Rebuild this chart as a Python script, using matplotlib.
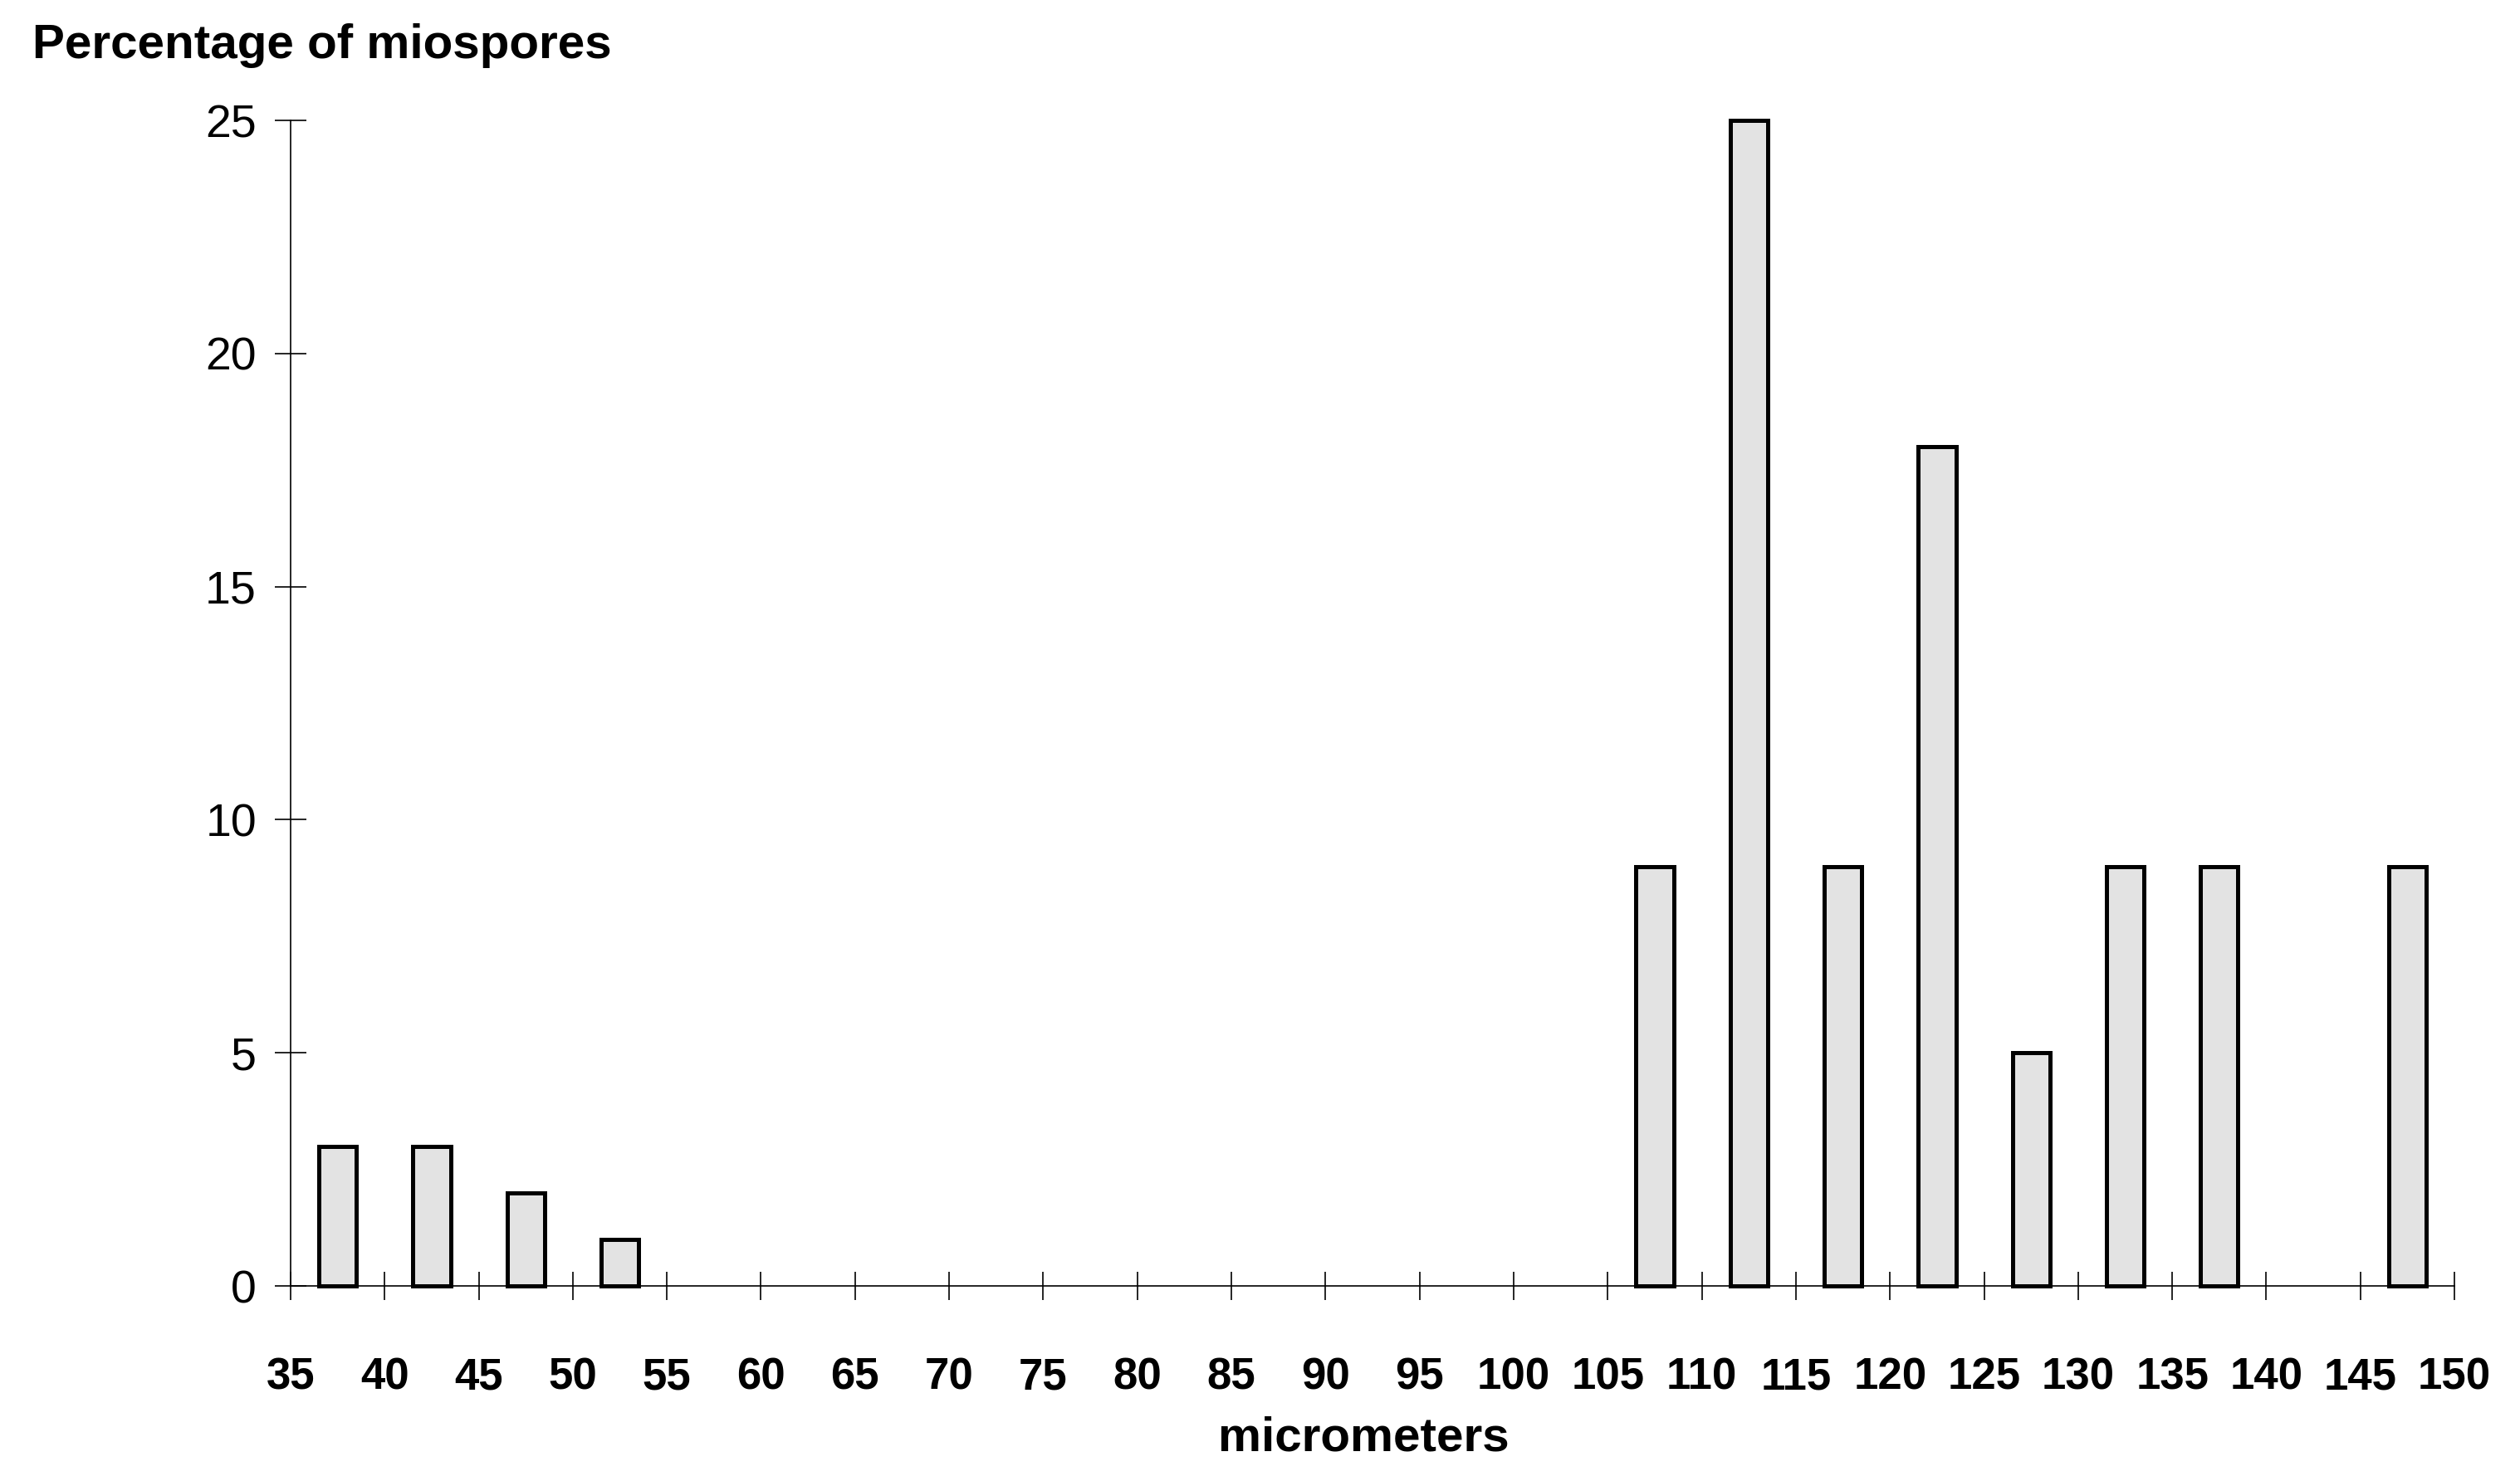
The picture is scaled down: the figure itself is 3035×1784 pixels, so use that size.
import numpy as np
import matplotlib.pyplot as plt

# bin centres (micrometers) and percentage of miospores
sizes = [37.5, 42.5, 47.5, 52.5, 107.5, 112.5, 117.5, 122.5, 127.5, 132.5, 137.5, 147.5]
percent = [3, 3, 2, 1, 9, 25, 9, 18, 5, 9, 9, 9]
x_ticks = list(range(35, 151, 5))
y_ticks = [0, 5, 10, 15, 20, 25]

plt.rcParams['font.family'] = ['Liberation Sans', 'DejaVu Sans']

fig = plt.figure(figsize=(30.35, 17.84), dpi=100)
ax = fig.add_axes([0.1153, 0.1317, 0.974 - 0.1153, 0.9187 - 0.1317])

ax.bar(sizes, percent, width=2.0, color='#e3e3e3', edgecolor='black',
       linewidth=3.6, zorder=3, clip_on=False)

ax.set_xlim(35, 150)
ax.set_ylim(0, 25)
ax.set_xticks(x_ticks)
ax.set_yticks(y_ticks)

for s in ['top', 'right']:
    ax.spines[s].set_visible(False)
for s in ['left', 'bottom']:
    ax.spines[s].set_linewidth(1.2)

ax.tick_params(axis='y', direction='inout', length=27, width=1.2, pad=16, labelsize=40)
ax.tick_params(axis='x', direction='inout', length=25, width=1.2, pad=49, labelsize=38)
for lab in ax.get_xticklabels():
    lab.set_fontweight('bold')

fig.text(39 / 3035, 1 - 70 / 1784, 'Percentage of miospores', fontsize=42,
         fontweight='bold', ha='left', va='baseline')
fig.text(1642 / 3035, 1 - 1748 / 1784, 'micrometers', fontsize=42,
         fontweight='bold', ha='center', va='baseline')

plt.savefig('out.png', dpi=100)
